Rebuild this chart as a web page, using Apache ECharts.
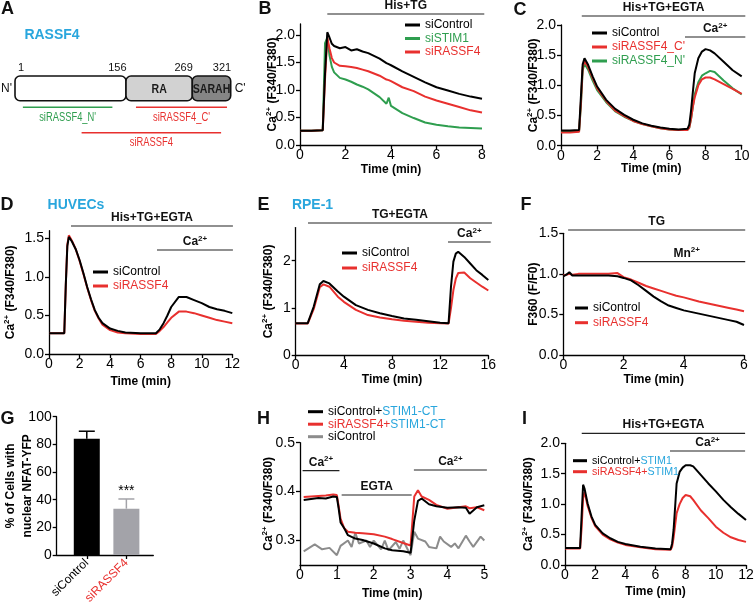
<!DOCTYPE html>
<html><head><meta charset="utf-8">
<script src="https://cdn.jsdelivr.net/npm/echarts@6/dist/echarts.min.js"></script>
<style>html,body{margin:0;padding:0;background:#fff}#c{width:754px;height:604px}</style>
</head><body><div id="c"></div>
<script>
// ================= DATA =================
// Panel A: RASSF4 domain schematic (amino-acid positions)
const A_domainBounds = [1, 156, 269, 321];
const A_domainNames = ['', 'RA', 'SARAH'];
const A_sirnaNames = ["siRASSF4_N'", "siRASSF4_C'", 'siRASSF4'];
const A_sirnaStart = [12, 173, 94];
const A_sirnaEnd = [137, 316, 308];

// Panel B
const B_time = [0, 0.5, 1.0, 1.1, 1.2, 1.3, 1.4, 1.5, 1.75, 2, 2.25, 2.5, 2.75, 3, 3.5, 3.8, 3.9, 4, 4.5, 5, 5.5, 6, 6.5, 7, 7.5, 8];
const B_siControl = [0.26,0.26,0.27,1.30,2.05,1.95,1.84,1.80,1.76,1.78,1.72,1.74,1.70,1.67,1.57,1.49,1.47,1.45,1.34,1.24,1.14,1.05,0.99,0.93,0.88,0.84];
const B_siSTIM1 = [0.26,0.26,0.27,1.85,1.95,1.62,1.42,1.32,1.22,1.19,1.15,1.10,1.06,1.01,0.87,0.75,0.86,0.71,0.58,0.49,0.41,0.37,0.34,0.32,0.31,0.30];
const B_siRASSF4 = [0.26,0.26,0.27,1.20,1.95,1.75,1.58,1.50,1.44,1.43,1.42,1.40,1.37,1.34,1.26,1.19,1.18,1.16,1.05,0.98,0.88,0.81,0.75,0.69,0.63,0.59];
const B_xTicks = [0, 2, 4, 6, 8];
const B_yTicks = [0, 0.5, 1.0, 1.5, 2.0];
const B_periods = [[1.2, 8.1]];
const B_periodText = ['His+TG'];

// Panel C
const C_time = [0, 0.5, 1.0, 1.1, 1.2, 1.3, 1.5, 1.75, 2, 2.5, 3, 3.5, 4, 4.5, 5, 5.5, 6, 6.5, 7, 7.1, 7.2, 7.3, 7.4, 7.6, 7.8, 8, 8.25, 8.5, 9, 9.5, 10];
const C_siControl = [0.25,0.25,0.26,0.80,1.35,1.45,1.34,1.15,0.98,0.76,0.61,0.51,0.43,0.37,0.33,0.30,0.28,0.27,0.28,0.35,0.59,0.90,1.20,1.45,1.56,1.60,1.58,1.53,1.39,1.25,1.15];
const C_siRASSF4_C = [0.22,0.22,0.23,0.70,1.30,1.40,1.30,1.12,0.95,0.74,0.58,0.49,0.41,0.36,0.32,0.29,0.27,0.26,0.26,0.30,0.45,0.65,0.80,1.00,1.10,1.13,1.13,1.10,1.02,0.94,0.86];
const C_siRASSF4_N = [0.23,0.23,0.24,0.65,1.25,1.36,1.26,1.08,0.92,0.72,0.57,0.48,0.41,0.36,0.32,0.29,0.27,0.26,0.26,0.30,0.45,0.65,0.85,1.05,1.16,1.20,1.24,1.22,1.08,0.95,0.85];
const C_xTicks = [0, 2, 4, 6, 8, 10];
const C_yTicks = [0, 0.5, 1.0, 1.5, 2.0];
const C_periods = [[1.15, 10.2], [6.86, 10.2]];
const C_periodText = ['His+TG+EGTA', 'Ca2+'];

// Panel D (HUVECs)
const D_time = [0, 0.5, 1.0, 1.1, 1.2, 1.3, 1.5, 1.75, 2, 2.25, 2.5, 2.75, 3, 3.25, 3.5, 4, 4.5, 5, 6, 7, 7.25, 7.5, 7.75, 8, 8.5, 9, 9.5, 10, 10.5, 11, 11.5, 12];
const D_siControl = [0.27,0.27,0.27,0.90,1.40,1.52,1.46,1.36,1.22,1.05,0.87,0.71,0.57,0.47,0.40,0.33,0.30,0.28,0.27,0.27,0.32,0.40,0.50,0.61,0.74,0.74,0.70,0.66,0.61,0.58,0.56,0.53];
const D_siRASSF4 = [0.27,0.27,0.27,0.90,1.42,1.54,1.47,1.36,1.21,1.04,0.86,0.70,0.56,0.46,0.38,0.31,0.28,0.27,0.26,0.26,0.30,0.35,0.41,0.47,0.55,0.55,0.53,0.50,0.47,0.44,0.42,0.40];
const D_xTicks = [0, 2, 4, 6, 8, 10, 12];
const D_yTicks = [0, 0.5, 1.0, 1.5];
const D_periods = [[1.44, 12.04], [7.07, 12.04]];
const D_periodText = ['His+TG+EGTA', 'Ca2+'];

// Panel E (RPE-1)
const E_time = [0, 0.5, 1.0, 1.1, 1.5, 2, 2.3, 2.8, 3.5, 4, 5, 6, 7, 8, 9, 10, 11, 12, 12.7, 12.9, 13.1, 13.3, 13.5, 14, 14.5, 15, 15.5, 16];
const E_siControl = [0.68,0.68,0.68,0.69,1.03,1.50,1.57,1.52,1.35,1.24,1.06,0.96,0.89,0.83,0.78,0.75,0.72,0.69,0.68,1.45,1.98,2.15,2.19,2.08,1.94,1.80,1.70,1.59];
const E_siRASSF4 = [0.67,0.67,0.67,0.68,0.98,1.44,1.50,1.45,1.24,1.13,0.96,0.85,0.80,0.76,0.73,0.71,0.69,0.68,0.67,1.00,1.38,1.62,1.74,1.75,1.63,1.54,1.45,1.37];
const E_xTicks = [0, 4, 8, 12, 16];
const E_yTicks = [0, 1, 2];
const E_periods = [[1.02, 16.3], [12.65, 16.2]];
const E_periodText = ['TG+EGTA', 'Ca2+'];

// Panel F (Mn2+ quench)
const F_time = [0, 0.1, 0.2, 0.3, 0.5, 1, 1.5, 1.8, 2, 2.25, 2.5, 2.75, 3, 3.25, 3.5, 3.75, 4, 4.5, 5, 5.5, 5.75, 6];
const F_siControl = [0.97,0.99,1.02,0.98,0.98,0.98,0.98,0.97,0.95,0.92,0.86,0.79,0.72,0.66,0.61,0.58,0.55,0.51,0.47,0.43,0.41,0.37];
const F_siRASSF4 = [0.98,0.99,1.00,0.99,1.00,1.00,1.00,1.01,0.96,0.93,0.89,0.85,0.82,0.79,0.76,0.73,0.71,0.66,0.62,0.58,0.56,0.54];
const F_xTicks = [0, 2, 4, 6];
const F_yTicks = [0, 0.5, 1.0, 1.5];
const F_periods = [[0.16, 6.04], [2.15, 6.04]];
const F_periodText = ['TG', 'Mn2+'];

// Panel G (bar chart)
const G_categories = ['siControl', 'siRASSF4'];
const G_values = [84, 33.5];
const G_errors = [5.5, 7];
const G_signif = ['', '***'];
const G_yTicks = [0, 20, 40, 60, 80, 100];

// Panel H
const H_time = [0.1,0.3,0.5,0.7,0.9,1.0,1.05,1.1,1.2,1.3,1.5,1.7,2.0,2.3,2.5,2.8,3.0,3.1,3.2,3.3,3.5,3.7,4.0,4.3,4.5,4.6,4.8,5.0];
const H_siControlCT = [0.383,0.385,0.387,0.386,0.390,0.389,0.365,0.337,0.325,0.311,0.304,0.301,0.294,0.284,0.280,0.278,0.275,0.341,0.381,0.386,0.374,0.370,0.367,0.368,0.367,0.355,0.368,0.372];
const H_siRASSF4CT = [0.389,0.390,0.391,0.392,0.394,0.393,0.370,0.345,0.325,0.318,0.316,0.315,0.313,0.308,0.303,0.295,0.290,0.390,0.403,0.390,0.383,0.373,0.365,0.368,0.370,0.366,0.368,0.362];
const H_ctrlTime = [0.1,0.4,0.6,0.8,1.0,1.1,1.3,1.4,1.5,1.6,1.8,1.9,2.0,2.2,2.3,2.4,2.6,2.7,2.8,3.0,3.1,3.2,3.4,3.5,3.7,3.8,3.9,4.1,4.2,4.3,4.5,4.6,4.7,4.9,5.0];
const H_siControl = [0.278,0.292,0.282,0.285,0.270,0.289,0.300,0.287,0.316,0.294,0.300,0.287,0.300,0.282,0.300,0.280,0.297,0.283,0.300,0.270,0.318,0.304,0.298,0.287,0.284,0.308,0.298,0.287,0.294,0.284,0.310,0.298,0.287,0.308,0.300];
const H_xTicks = [0, 1, 2, 3, 4, 5];
const H_yTicks = [0.3, 0.4, 0.5];
const H_periods = [[0.07, 1.07], [1.13, 3.03], [3.09, 5.07]];
const H_periodText = ['Ca2+', 'EGTA', 'Ca2+'];

// Panel I
const I_time = [0, 0.5, 1.0, 1.1, 1.2, 1.3, 1.5, 1.75, 2, 2.5, 3, 3.5, 4, 5, 6, 7, 7.1, 7.2, 7.3, 7.4, 7.6, 7.8, 8, 8.3, 8.5, 9, 9.5, 10, 10.5, 11, 11.5, 12];
const I_siControlSTIM1 = [0.28,0.28,0.28,0.80,1.32,1.25,1.01,0.80,0.66,0.52,0.44,0.38,0.345,0.30,0.27,0.26,0.35,0.58,0.95,1.34,1.53,1.60,1.64,1.64,1.62,1.48,1.34,1.21,1.07,0.95,0.84,0.74];
const I_siRASSF4STIM1 = [0.27,0.27,0.27,0.60,1.10,1.20,0.97,0.78,0.64,0.50,0.42,0.37,0.33,0.29,0.26,0.25,0.30,0.45,0.65,0.85,1.00,1.10,1.15,1.13,1.07,0.90,0.77,0.63,0.53,0.455,0.41,0.38];
const I_xTicks = [0, 2, 4, 6, 8, 10, 12];
const I_yTicks = [0, 0.5, 1.0, 1.5, 2.0];
const I_periods = [[1.11, 11.94], [6.96, 11.94]];
const I_periodText = ['His+TG+EGTA', 'Ca2+'];

// ================= STYLE / LAYOUT =================
const FF = '"Liberation Sans", Arial, Helvetica, sans-serif';
const BLACK = '#000000', RED = '#e8302e', GREEN = '#2f9e4f', GRAY = '#8c8c8c', BLUE = '#29a6dd';
const AXW = 1.3;

const grids = [];
const xAxes = [];
const yAxes = [];
const series = [];
const legends = [];

const nameRich = {
  c: {fontSize: 12, fontWeight: 'bold', color: '#000', fontFamily: FF, lineHeight: 16},
  s: {fontSize: 8, fontWeight: 'bold', color: '#000', fontFamily: FF, lineHeight: 9, verticalAlign: 'top'}
};
const CA_NAME = '{c|Ca}{s|2+}{c| (F340/F380)}';

const labRich = {
  k: {color: BLACK, fontSize: 12, fontFamily: FF},
  r: {color: RED, fontSize: 12, fontFamily: FF},
  g: {color: GREEN, fontSize: 12, fontFamily: FF},
  b: {color: BLUE, fontSize: 12, fontFamily: FF}
};
function richFor(size, lh) {
  const o = {};
  for (const k in labRich) o[k] = Object.assign({}, labRich[k], {fontSize: size, lineHeight: lh});
  return o;
}

const annRich = {
  b: {fill: '#111', fontSize: 12, fontWeight: 'bold', fontFamily: FF, lineHeight: 14},
  s: {fill: '#111', fontSize: 8, fontWeight: 'bold', fontFamily: FF, lineHeight: 8, verticalAlign: 'top'}
};
function periodMarkup(t) {
  if (t.endsWith('2+')) return '{b|' + t.slice(0, -2) + '}{s|2+}';
  return '{b|' + t + '}';
}

function addGrid(g) {
  grids.push(Object.assign({containLabel: false, outerBoundsMode: 'none'}, g));
  return grids.length - 1;
}

function valueX(gi, o) {
  return {
    gridIndex: gi, type: 'value', min: o.min, max: o.max,
    name: o.name === undefined ? 'Time (min)' : o.name, nameLocation: 'middle', nameGap: o.nameGap,
    nameMoveOverlap: false,
    nameTextStyle: {fontSize: 12, fontWeight: 'bold', color: '#000', fontFamily: FF},
    axisLine: {show: true, onZero: false, lineStyle: {color: '#000', width: AXW}},
    axisTick: {show: true, length: 4, customValues: o.ticks, lineStyle: {color: '#000', width: AXW}},
    axisLabel: Object.assign({customValues: o.ticks, fontSize: 14, color: '#000', fontFamily: FF, margin: 3}, o.label || {}),
    splitLine: {show: false}
  };
}
function valueY(gi, o) {
  return {
    gridIndex: gi, type: 'value', min: o.min, max: o.max,
    name: o.name, nameLocation: 'middle', nameGap: o.nameGap, nameRotate: 90,
    nameMoveOverlap: false,
    nameTextStyle: Object.assign({fontSize: 12, fontWeight: 'bold', color: '#000', fontFamily: FF, rich: nameRich}, o.nameStyle || {}),
    axisLine: {show: true, onZero: false, lineStyle: {color: '#000', width: AXW}},
    axisTick: {show: true, length: 4, customValues: o.ticks, lineStyle: {color: '#000', width: AXW}},
    axisLabel: {customValues: o.ticks, fontSize: 14, color: '#000', fontFamily: FF, margin: 5,
      formatter: v => o.dec === undefined ? String(v) : Number(v).toFixed(o.dec)},
    splitLine: {show: false}
  };
}
function lineSeries(panel, gi, name, time, vals, color, w) {
  return {
    type: 'line', name: panel + '|' + name, xAxisIndex: gi, yAxisIndex: gi,
    data: time.map((t, i) => [t, vals[i]]),
    showSymbol: false, symbol: 'none', silent: true,
    lineStyle: {width: w || 2, color: color}, itemStyle: {color: color}, z: 3
  };
}
function periodSeries(gi, periods, texts, offsets) {
  return {
    type: 'custom', xAxisIndex: gi, yAxisIndex: gi, silent: true, clip: false, z: 6,
    data: periods.map((p, i) => [p[0], p[1], i]),
    renderItem: function (params, api) {
      const i = api.value(2);
      const cs = params.coordSys;
      const x0 = api.coord([api.value(0), 0])[0];
      const x1 = api.coord([api.value(1), 0])[0];
      const y = cs.y + offsets[i];
      return {type: 'group', children: [
        {type: 'line', shape: {x1: x0, y1: y, x2: x1, y2: y}, style: {stroke: '#222', lineWidth: 1.2}},
        {type: 'text', x: (x0 + x1) / 2, y: y - 8.5, style: {text: periodMarkup(texts[i]), rich: annRich, align: 'center', verticalAlign: 'middle', fill: '#111', font: 'bold 12px ' + FF}}
      ]};
    }
  };
}
function addLegend(o) {
  legends.push({
    left: o.left, top: o.top, orient: 'vertical', padding: 0, itemGap: o.gap,
    itemWidth: o.iw || 15, itemHeight: 3, icon: 'rect', selectedMode: false,
    data: o.items.map(it => it[0]),
    formatter: n => { const f = o.items.find(it => it[0] === n); return f ? f[1] : n; },
    textStyle: {fontSize: o.fs || 12, fontFamily: FF, lineHeight: o.lh, rich: richFor(o.fs || 12, o.lh)}
  });
}

// ---------- Panel A ----------
const A_displayFrac = [0, 0.5146, 0.822, 1];   // schematic (non-proportional) drawing positions
function aFrac(aa) {
  for (let i = 0; i < A_domainBounds.length - 1; i++) {
    const a0 = A_domainBounds[i], a1 = A_domainBounds[i + 1];
    if (aa <= a1 || i === A_domainBounds.length - 2) {
      return A_displayFrac[i] + (aa - a0) / (a1 - a0) * (A_displayFrac[i + 1] - A_displayFrac[i]);
    }
  }
}
const A_barTop = 16, A_barBottom = 40.7, A_rowY = [47.3, 72.7], A_sirnaRow = [0, 0, 1];
const A_fill = ['#ffffff', '#d2d2d2', '#858585'];
const A_sirnaColor = [GREEN, RED, RED];
const gA = addGrid({left: 15, top: 60, width: 215.7, height: 90});
xAxes.push({gridIndex: gA, type: 'value', min: 0, max: 1, show: false});
yAxes.push({gridIndex: gA, type: 'value', min: 0, max: 90, inverse: true, show: false});
series.push({
  type: 'custom', xAxisIndex: gA, yAxisIndex: gA, silent: true, clip: false, z: 4,
  data: A_domainNames.map((n, i) => [A_domainBounds[i], A_domainBounds[i + 1], i]),
  renderItem: function (params, api) {
    const i = api.value(2);
    const p0 = api.coord([aFrac(api.value(0)), A_barTop]);
    const p1 = api.coord([aFrac(api.value(1)), A_barBottom]);
    const ch = [
      {type: 'rect', shape: {x: p0[0], y: p0[1], width: p1[0] - p0[0], height: p1[1] - p0[1], r: 5},
        style: {fill: A_fill[i], stroke: '#111', lineWidth: 1.6}},
      {type: 'text', x: (p0[0] + p1[0]) / 2, y: (p0[1] + p1[1]) / 2 + 1, scaleX: 0.88,
        style: {text: A_domainNames[i], align: 'center', verticalAlign: 'middle', fill: '#1a1a1a', font: 'bold 12px ' + FF}}
    ];
    if (i === 0) {
      ch.push({type: 'text', x: p0[0] + 3, y: p0[1] - 8, style: {text: String(A_domainBounds[0]), align: 'left', verticalAlign: 'middle', fill: '#111', font: '11px ' + FF}});
      ch.push({type: 'text', x: p0[0] - 3, y: (p0[1] + p1[1]) / 2, style: {text: "N'", align: 'right', verticalAlign: 'middle', fill: '#111', font: '12px ' + FF}});
    }
    ch.push({type: 'text', x: p1[0] + 0.5, y: p0[1] - 8, style: {text: String(A_domainBounds[i + 1]), align: 'right', verticalAlign: 'middle', fill: '#111', font: '11px ' + FF}});
    if (i === A_domainNames.length - 1) {
      ch.push({type: 'text', x: p1[0] + 4, y: (p0[1] + p1[1]) / 2, style: {text: "C'", align: 'left', verticalAlign: 'middle', fill: '#111', font: '12px ' + FF}});
    }
    return {type: 'group', children: ch};
  }
});
series.push({
  type: 'custom', xAxisIndex: gA, yAxisIndex: gA, silent: true, clip: false, z: 4,
  data: A_sirnaNames.map((n, i) => [A_sirnaStart[i], A_sirnaEnd[i], i]),
  renderItem: function (params, api) {
    const i = api.value(2);
    const y = A_rowY[A_sirnaRow[i]];
    const p0 = api.coord([aFrac(api.value(0)), y]);
    const p1 = api.coord([aFrac(api.value(1)), y]);
    return {type: 'group', children: [
      {type: 'line', shape: {x1: p0[0], y1: p0[1], x2: p1[0], y2: p1[1]}, style: {stroke: A_sirnaColor[i], lineWidth: 1.6}},
      {type: 'text', x: (p0[0] + p1[0]) / 2, y: p0[1] + 10.3, scaleX: 0.78,
        style: {text: A_sirnaNames[i], align: 'center', verticalAlign: 'middle', fill: A_sirnaColor[i], font: '12px ' + FF}}
    ]};
  }
});

// ---------- Panel B ----------
const gB = addGrid({left: 300, top: 24, width: 182, height: 121});
xAxes.push(valueX(gB, {min: 0, max: 8, ticks: B_xTicks, nameGap: 19}));
yAxes.push(valueY(gB, {min: 0, max: 2.2, ticks: B_yTicks, dec: 1, name: CA_NAME, nameGap: 19}));
series.push(lineSeries('B', gB, 'siSTIM1', B_time, B_siSTIM1, GREEN));
series.push(lineSeries('B', gB, 'siRASSF4', B_time, B_siRASSF4, RED));
series.push(lineSeries('B', gB, 'siControl', B_time, B_siControl, BLACK));
series.push(periodSeries(gB, B_periods, B_periodText, [-10]));
addLegend({left: 405, top: 18.5, gap: 0.5, lh: 13, items: [['B|siControl', '{k|siControl}'], ['B|siSTIM1', '{g|siSTIM1}'], ['B|siRASSF4', '{r|siRASSF4}']]});

// ---------- Panel C ----------
const gC = addGrid({left: 561, top: 25, width: 180.7, height: 120.7});
xAxes.push(valueX(gC, {min: 0, max: 10, ticks: C_xTicks, nameGap: 17}));
yAxes.push(valueY(gC, {min: 0, max: 2.0, ticks: C_yTicks, dec: 1, name: CA_NAME, nameGap: 19.7}));
series.push(lineSeries('C', gC, "siRASSF4_N'", C_time, C_siRASSF4_N, GREEN));
series.push(lineSeries('C', gC, "siRASSF4_C'", C_time, C_siRASSF4_C, RED));
series.push(lineSeries('C', gC, 'siControl', C_time, C_siControl, BLACK));
series.push(periodSeries(gC, C_periods, C_periodText, [-9, 12]));
addLegend({left: 592, top: 26.5, gap: 1, lh: 13, items: [['C|siControl', '{k|siControl}'], ["C|siRASSF4_C'", "{r|siRASSF4_C'}"], ["C|siRASSF4_N'", "{g|siRASSF4_N'}"]]});

// ---------- Panel D ----------
const gD = addGrid({left: 49, top: 230.7, width: 183.3, height: 123.3});
xAxes.push(valueX(gD, {min: 0, max: 12, ticks: D_xTicks, nameGap: 21.7}));
yAxes.push(valueY(gD, {min: 0, max: 1.6, ticks: D_yTicks, dec: 1, name: CA_NAME, nameGap: 30}));
series.push(lineSeries('D', gD, 'siRASSF4', D_time, D_siRASSF4, RED));
series.push(lineSeries('D', gD, 'siControl', D_time, D_siControl, BLACK));
series.push(periodSeries(gD, D_periods, D_periodText, [-4.7, 19.3]));
addLegend({left: 93, top: 265.5, gap: 1, lh: 13, items: [['D|siControl', '{k|siControl}'], ['D|siRASSF4', '{r|siRASSF4}']]});

// ---------- Panel E ----------
const gE = addGrid({left: 295.7, top: 227.6, width: 192.6, height: 127.7});
xAxes.push(valueX(gE, {min: 0, max: 16, ticks: E_xTicks, nameGap: 18.7}));
yAxes.push(valueY(gE, {min: 0, max: 2.7, ticks: E_yTicks, name: CA_NAME, nameGap: 19.4}));
series.push(lineSeries('E', gE, 'siRASSF4', E_time, E_siRASSF4, RED));
series.push(lineSeries('E', gE, 'siControl', E_time, E_siControl, BLACK));
series.push(periodSeries(gE, E_periods, E_periodText, [-4.6, 14.4]));
addLegend({left: 342, top: 246.5, gap: 2, lh: 13, items: [['E|siControl', '{k|siControl}'], ['E|siRASSF4', '{r|siRASSF4}']]});

// ---------- Panel F ----------
const gF = addGrid({left: 563.3, top: 233.3, width: 180.7, height: 121.7});
xAxes.push(valueX(gF, {min: 0, max: 6, ticks: F_xTicks, nameGap: 19}));
yAxes.push(valueY(gF, {min: 0, max: 1.5, ticks: F_yTicks, dec: 1, name: 'F360 (F/F0)', nameGap: 24}));
series.push(lineSeries('F', gF, 'siRASSF4', F_time, F_siRASSF4, RED));
series.push(lineSeries('F', gF, 'siControl', F_time, F_siControl, BLACK));
series.push(periodSeries(gF, F_periods, F_periodText, [-3.3, 28.4]));
addLegend({left: 575, top: 301.5, gap: 1.7, lh: 13, iw: 13, items: [['F|siControl', '{k|siControl}'], ['F|siRASSF4', '{r|siRASSF4}']]});

// ---------- Panel G ----------
const G_labelMarkup = ['{k|siControl}', '{r|siRASSF4}'];
const G_barColor = ['#000000', '#a3a3a9'];
const gG = addGrid({left: 56.7, top: 416.7, width: 96.6, height: 138.3});
xAxes.push(valueX(gG, {min: -0.76, max: 1.68, ticks: [0, 1], name: '', nameGap: 0,
  label: {rotate: 45, margin: 6, formatter: v => G_labelMarkup[Math.round(v)] || '', rich: richFor(12, 14)}}));
yAxes.push(valueY(gG, {min: 0, max: 100, ticks: G_yTicks, name: '% of Cells with\nnuclear NFAT-YFP', nameGap: 21,
  nameStyle: {lineHeight: 17}}));
series.push({
  type: 'bar', xAxisIndex: gG, yAxisIndex: gG, barWidth: 26, silent: true, z: 2,
  data: G_values.map((v, i) => ({value: [i, v], itemStyle: {color: G_barColor[i]}}))
});
series.push({
  type: 'custom', xAxisIndex: gG, yAxisIndex: gG, silent: true, clip: false, z: 3,
  data: G_values.map((v, i) => [i, v, G_errors[i], i]),
  renderItem: function (params, api) {
    const i = api.value(3);
    const p0 = api.coord([api.value(0), api.value(1)]);
    const p1 = api.coord([api.value(0), api.value(1) + api.value(2)]);
    const ch = [
      {type: 'line', shape: {x1: p0[0], y1: p0[1], x2: p1[0], y2: p1[1]}, style: {stroke: G_barColor[i], lineWidth: 1.5}},
      {type: 'line', shape: {x1: p1[0] - 8, y1: p1[1], x2: p1[0] + 8, y2: p1[1]}, style: {stroke: G_barColor[i], lineWidth: 1.5}}
    ];
    if (G_signif[i]) ch.push({type: 'text', x: p1[0], y: p1[1] - 8, style: {text: G_signif[i], align: 'center', verticalAlign: 'middle', fill: '#000', font: '14px ' + FF}});
    return {type: 'group', children: ch};
  }
});

// ---------- Panel H ----------
const gH = addGrid({left: 300, top: 442.7, width: 184.3, height: 122.3});
xAxes.push(valueX(gH, {min: 0, max: 5, ticks: H_xTicks, nameGap: 22.3}));
yAxes.push(valueY(gH, {min: 0.25, max: 0.5, ticks: H_yTicks, dec: 1, name: CA_NAME, nameGap: 23.7}));
series.push(lineSeries('H', gH, 'siControl', H_ctrlTime, H_siControl, GRAY));
series.push(lineSeries('H', gH, 'siRASSF4+STIM1-CT', H_time, H_siRASSF4CT, RED));
series.push(lineSeries('H', gH, 'siControl+STIM1-CT', H_time, H_siControlCT, BLACK));
series.push(periodSeries(gH, H_periods, H_periodText, [28, 52.3, 27.3]));
addLegend({left: 308, top: 405.2, gap: -0.5, lh: 13, items: [['H|siControl+STIM1-CT', '{k|siControl+}{b|STIM1-CT}'], ['H|siRASSF4+STIM1-CT', '{r|siRASSF4+}{b|STIM1-CT}'], ['H|siControl', '{k|siControl}']]});

// ---------- Panel I ----------
const gI = addGrid({left: 565, top: 443.3, width: 181, height: 121.7});
xAxes.push(valueX(gI, {min: 0, max: 12, ticks: I_xTicks, nameGap: 20.7}));
yAxes.push(valueY(gI, {min: 0, max: 2.0, ticks: I_yTicks, dec: 1, name: CA_NAME, nameGap: 28.7}));
series.push(lineSeries('I', gI, 'siRASSF4+STIM1', I_time, I_siRASSF4STIM1, RED));
series.push(lineSeries('I', gI, 'siControl+STIM1', I_time, I_siControlSTIM1, BLACK));
series.push(periodSeries(gI, I_periods, I_periodText, [-10, 7.7]));
addLegend({left: 573, top: 455.2, gap: 0, lh: 11, fs: 10.7, iw: 14, items: [['I|siControl+STIM1', '{k|siControl+}{b|STIM1}'], ['I|siRASSF4+STIM1', '{r|siRASSF4+}{b|STIM1}']]});

// ---------- Panel letters & titles ----------
function lbl(t, x, y, color, size) {
  return {type: 'text', x: x, y: y, style: {text: t, fill: color || '#111', font: 'bold ' + (size || 18) + 'px ' + FF, align: 'center', verticalAlign: 'middle'}};
}
const graphics = [
  lbl('A', 7.5, 9), lbl('B', 265, 9), lbl('C', 520, 10),
  lbl('D', 7, 205), lbl('E', 263.5, 205), lbl('F', 526, 205),
  lbl('G', 7.5, 419), lbl('H', 263.5, 419), lbl('I', 524.5, 419),
  lbl('RASSF4', 52, 35, BLUE, 14), lbl('HUVECs', 76, 205, BLUE, 14), lbl('RPE-1', 312.5, 205, BLUE, 14)
];

const chart = echarts.init(document.getElementById('c'), null, {renderer: 'canvas'});
chart.setOption({
  animation: false,
  backgroundColor: '#ffffff',
  grid: grids, xAxis: xAxes, yAxis: yAxes, series: series, legend: legends,
  graphic: graphics
});
</script></body></html>
